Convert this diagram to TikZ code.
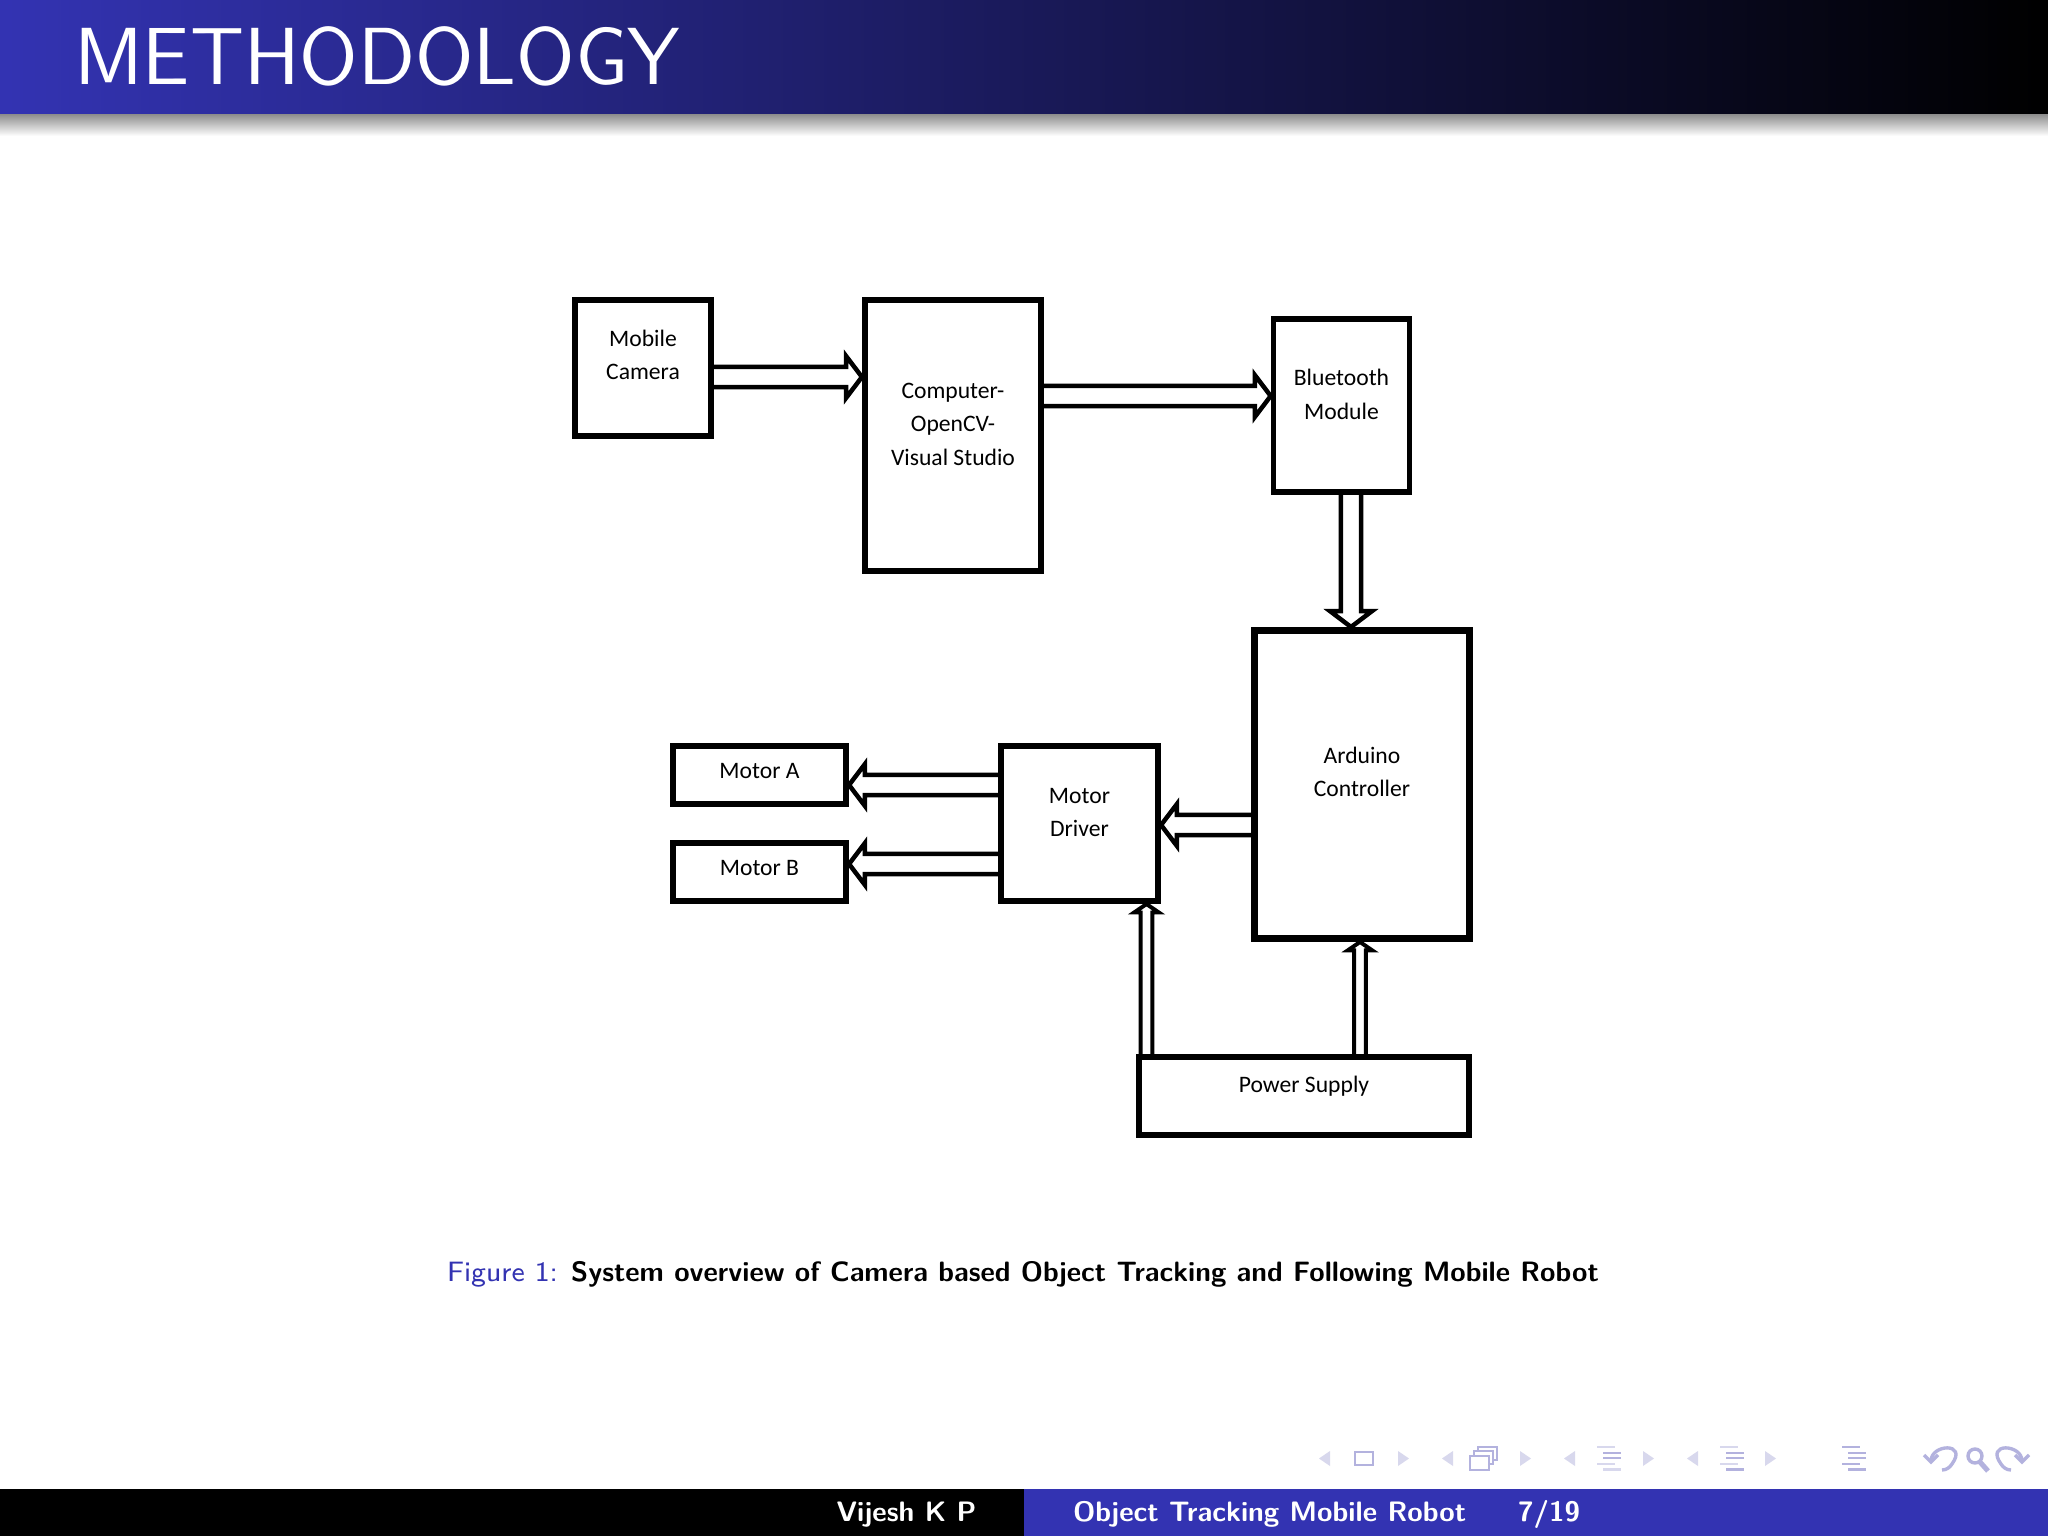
\documentclass[tikz,border=0pt]{standalone}
\usepackage{fontspec}
\usetikzlibrary{calc}
\newfontfamily\figfont{Carlito}
\newcommand{\px}{0.0625mm}
\definecolor{slideblue}{rgb}{0.2,0.2,0.7}
\definecolor{navlight}{HTML}{D8D8ED}
\definecolor{navdark}{HTML}{B3B2DE}
\tikzset{
	x=0.0625mm,y=-0.0625mm,
	blockbox/.style={rectangle,draw,line width=1pt,fill=white,inner sep=0pt,align=center,
		font=\figfont\fontsize{4.2}{5.9}\selectfont,text depth=4pt},
	smallbox/.style={blockbox,text depth=1.5pt},
	hollow/.style n args={3}{draw,fill=white,miter limit=10,to path={
		($(\tikztostart)!#1!90:(\tikztotarget)$)
		-- ($($(\tikztotarget)!#3!(\tikztostart)$)!#1!90:(\tikztotarget)$)
		-- ($($(\tikztotarget)!#3!(\tikztostart)$)!#2!90:(\tikztotarget)$)
		-- (\tikztotarget)
		-- ($($(\tikztotarget)!#3!(\tikztostart)$)!#2!-90:(\tikztotarget)$)
		-- ($($(\tikztotarget)!#3!(\tikztostart)$)!#1!-90:(\tikztotarget)$)
		-- ($(\tikztostart)!#1!-90:(\tikztotarget)$)}},
	widearrow/.style={hollow={1.8pt}{3.7pt}{2.8pt},line width=0.8pt},
	thinarrow/.style={hollow={1.05pt}{2.2pt}{1.5pt},line width=0.7pt},
	navtri/.style={fill=navlight,draw=none},
	navline/.style={line width=0.5pt},
	navicon/.style={draw=navdark,line width=0.45pt}
}
\begin{document}
\begin{tikzpicture}
	\useasboundingbox (0,0) rectangle (2048,1536);
	\fill[white] (0,0) rectangle (2048,1536);
	% title bar
	\shade[left color=slideblue,right color=black] (0,0) rectangle (2048,114);
	\shade[top color=black!45,bottom color=white] (0,114) rectangle (2048,136);
	\node[anchor=base west,inner sep=0pt,text=white,font=\sffamily\fontsize{14.4}{16}\selectfont] (title) at (73,84) {METHODOLOGY};

	% blocks
	\node[blockbox,text depth=4.6pt,minimum width=136.5*\px,minimum height=136.5*\px] (mobile) at (643,368) {Mobile\\Camera};
	\node[blockbox,minimum width=176.5*\px,minimum height=271.5*\px] (computer) at (953,435.5) {Computer-\\OpenCV-\\Visual Studio};
	\node[blockbox,minimum width=136*\px,minimum height=173.5*\px] (bluetooth) at (1341.5,405.5) {Bluetooth\\Module};
	\node[blockbox,text depth=4.6pt,line width=1.25pt,minimum width=215*\px,minimum height=308*\px] (arduino) at (1362,784.5) {Arduino\\Controller};
	\node[blockbox,minimum width=157.5*\px,minimum height=155.5*\px] (driver) at (1079.5,823.5) {Motor\\Driver};
	\node[smallbox,minimum width=173.5*\px,minimum height=58.5*\px] (motora) at (759.5,775) {Motor A};
	\node[smallbox,minimum width=173.5*\px,minimum height=58.5*\px] (motorb) at (759.5,872) {Motor B};
	\node[blockbox,minimum width=330.5*\px,minimum height=78.5*\px] (power) at (1304,1096) {Power Supply};

	% connectors
	\draw[widearrow] (mobile.east |- 0,377) to (computer.west |- 0,377);
	\draw[widearrow] (computer.east |- 0,396) to (bluetooth.west |- 0,396);
	\draw[widearrow] (bluetooth.south -| 1351,0) to (arduino.north -| 1351,0);
	\draw[widearrow] (arduino.west |- 0,825) to (driver.east |- 0,825);
	\draw[widearrow] (driver.west |- 0,785) to (motora.east |- 0,785);
	\draw[widearrow] (driver.west |- 0,864) to (motorb.east |- 0,864);
	\draw[thinarrow] (power.north -| 1146.5,0) to (driver.south -| 1146.5,0);
	\draw[thinarrow] (power.north -| 1360,0) to (arduino.south -| 1360,0);

	% caption
	\node[anchor=base,inner sep=0pt,font=\sffamily\fontsize{4.98}{6}\selectfont] (caption) at (1023,1281) {\textcolor{slideblue}{Figure 1:} \textbf{System overview of Camera based Object Tracking and Following Mobile Robot}};

	% navigation symbols
	\foreach \x in {1319,1442,1564,1687}
		\fill[navtri] (\x+11,1451) -- (\x,1458.5) -- (\x+11,1466) -- cycle;
	\foreach \x in {1398,1520,1643,1765}
		\fill[navtri] (\x,1451) -- (\x+11,1458.5) -- (\x,1466) -- cycle;
	\draw[navicon] (1355,1452) rectangle (1373,1465);
	\draw[navicon] (1478,1447) rectangle (1497,1460);
	\draw[navicon,fill=white] (1474,1451) rectangle (1493,1464);
	\draw[navicon,fill=white] (1470,1456) rectangle (1489,1470);
	\foreach \x/\c in {1597/navlight,1720/navlight,1842/navdark}{
		\foreach \y/\dx in {1447/0,1453/6,1458/6,1464/0,1469.5/6}
			\draw[navline,draw=\c] (\x+\dx,\y) -- +(18,0);
	}
	\draw[navline,draw=navdark] (1603,1453) -- +(18,0) (1603,1458) -- +(18,0);
	\draw[navline,draw=navdark] (1726,1453) -- +(18,0) (1726,1458) -- +(18,0) (1726,1469.5) -- +(18,0);
	\draw[navicon,line width=0.6pt] (1931,1461) .. controls (1931,1444) and (1968,1442) .. (1952,1464) .. controls (1950,1467) and (1947,1470) .. (1942,1470);
	\draw[navicon,line width=0.6pt] (1924,1455) -- (1931,1462) -- (1938,1455);
	\draw[navicon,line width=0.6pt] (1975,1456) circle (7);
	\draw[navicon,line width=0.9pt] (1980,1462) -- (1988,1471);
	\draw[navicon,line width=0.6pt] (2022,1461) .. controls (2022,1444) and (1985,1442) .. (2001,1464) .. controls (2003,1467) and (2006,1470) .. (2011,1470);
	\draw[navicon,line width=0.6pt] (2015,1455) -- (2022,1462) -- (2029,1455);

	% footer
	\fill[black] (0,1489) rectangle (1024,1536);
	\fill[slideblue] (1024,1489) rectangle (2048,1536);
	\node[anchor=base,inner sep=0pt,text=white,font=\sffamily\fontsize{5}{6}\bfseries\selectfont] (author) at (906.5,1521) {Vijesh K P};
	\node[anchor=base west,inner sep=0pt,text=white,font=\sffamily\fontsize{5}{6}\bfseries\selectfont] (talk) at (1072,1521) {Object Tracking Mobile Robot};
	\node[anchor=base west,inner sep=0pt,text=white,font=\sffamily\fontsize{5}{6}\bfseries\selectfont] (page) at (1517,1521) {7/19};
\end{tikzpicture}
\end{document}
